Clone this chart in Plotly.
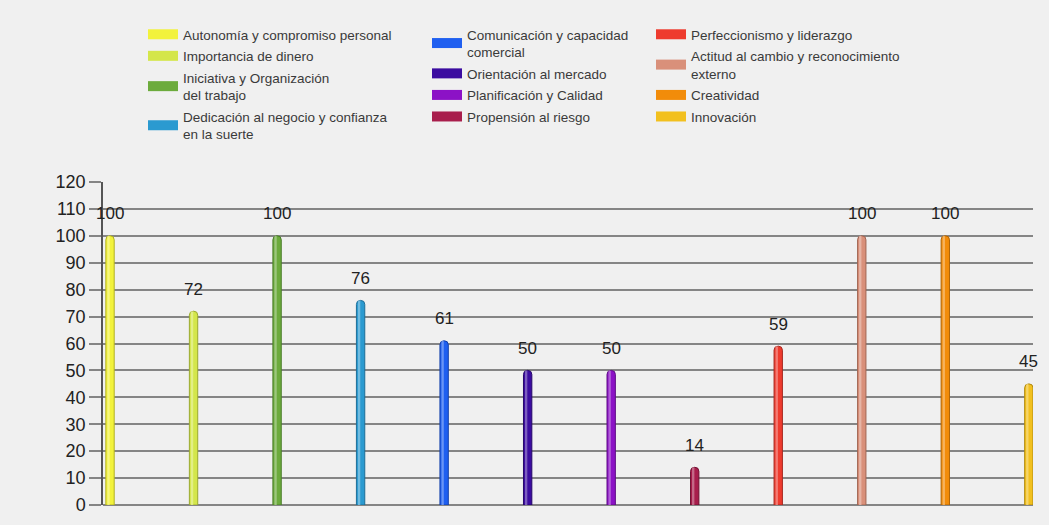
import plotly.graph_objects as go

categories = [
    "Autonomía y compromiso personal",
    "Importancia de dinero",
    "Iniciativa y Organización<br>del trabajo",
    "Dedicación al negocio y confianza<br>en la suerte",
    "Comunicación y capacidad<br>comercial",
    "Orientación al mercado",
    "Planificación y Calidad",
    "Propensión al riesgo",
    "Perfeccionismo y liderazgo",
    "Actitud al cambio y reconocimiento<br>externo",
    "Creatividad",
    "Innovación",
]
values = [100, 72, 100, 76, 61, 50, 50, 14, 59, 100, 100, 45]
colors = ["#f2f23c", "#d4e64a", "#6cab3c", "#2b9ad0", "#1f5ff0", "#3b0ca0",
          "#8c12c6", "#a81e4c", "#ee3b2e", "#d9907a", "#f28c0a", "#f2c01e"]
edge_colors = ["#b0b020", "#9aaa30", "#4a7e28", "#1d6e98", "#1440aa", "#26076a",
               "#5e0c86", "#701232", "#a82820", "#a06452", "#b06406", "#b08a12"]
legend_ids = ["legend"] * 4 + ["legend2"] * 4 + ["legend3"] * 4
y_ticks = list(range(0, 121, 10))
positions = list(range(len(categories)))


def lighten(hex_color, amount=0.45):
    h = hex_color.lstrip("#")
    r, g, b = (int(h[i:i + 2], 16) for i in (0, 2, 4))
    r, g, b = (int(c + (255 - c) * amount) for c in (r, g, b))
    return f"#{r:02x}{g:02x}{b:02x}"


highlight_colors = [lighten(c) for c in colors]

fig = go.Figure()
fig.add_trace(go.Bar(
    x=positions, y=values, width=0.1, customdata=categories,
    marker=dict(color=colors, line=dict(color=edge_colors, width=1), cornerradius=4),
    showlegend=False, hovertemplate="%{customdata}: %{y}<extra></extra>",
))
fig.add_trace(go.Bar(
    x=positions, y=values, width=0.028, offset=-0.032,
    marker=dict(color=highlight_colors, line=dict(width=0), opacity=0.75, cornerradius=1),
    showlegend=False, hoverinfo="skip",
))
for cat, col, lg in zip(categories, colors, legend_ids):
    fig.add_trace(go.Scatter(
        x=[0], y=[None], mode="lines", name=cat,
        line=dict(color=col, width=12), legend=lg, legendgroup=cat,
    ))

for p, v in zip(positions, values):
    fig.add_annotation(x=p, y=v, text=str(v), showarrow=False, yshift=22,
                       font=dict(size=17, color="#222222", family="Liberation Sans"))

bg = "#f0f0f0"
leg_common = dict(xref="container", yref="container", xanchor="left", yanchor="top",
                  bgcolor="rgba(0,0,0,0)", borderwidth=0, tracegroupgap=1,
                  font=dict(size=13.5, color="#3a3a3a", family="Liberation Sans"))
fig.update_layout(
    width=1049, height=525,
    paper_bgcolor=bg, plot_bgcolor=bg,
    margin=dict(l=103, r=16, t=182, b=20, autoexpand=False),
    showlegend=True,
    barmode="overlay",
    legend=dict(x=143 / 1049, y=1 - 19 / 525, **leg_common),
    legend2=dict(x=427 / 1049, y=1 - 19 / 525, **leg_common),
    legend3=dict(x=651 / 1049, y=1 - 19 / 525, **leg_common),
    xaxis=dict(range=[-0.084, 11.05], showticklabels=False,
               showgrid=False, zeroline=False, showline=False, ticks=""),
    yaxis=dict(range=[0, 120], tickvals=y_ticks, showgrid=True, gridcolor="#858585",
               gridwidth=1.5, zeroline=True, zerolinecolor="#858585", zerolinewidth=1.5,
               showline=True, linecolor="#555555", linewidth=1.5,
               ticks="outside", ticklen=12, tickcolor="#858585", tickwidth=1.5,
               tickfont=dict(size=18, color="#222222", family="Liberation Sans")),
    font=dict(family="Liberation Sans"),
)
fig.write_html("out.html")
